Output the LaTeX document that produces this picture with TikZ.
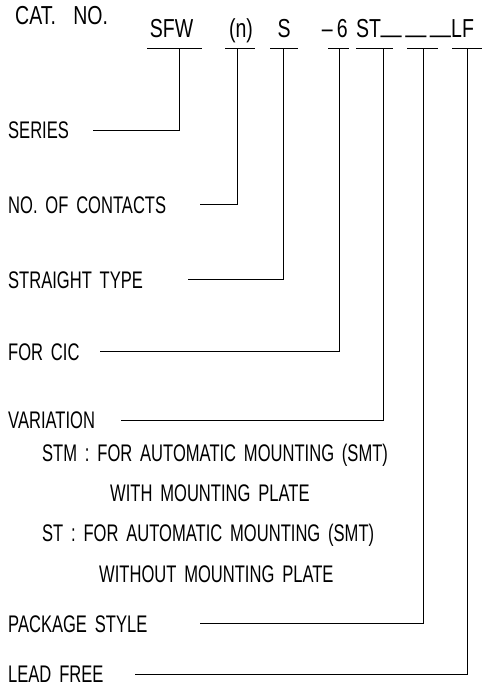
\documentclass[tikz,border=0pt]{standalone}
\usepackage{fontspec}
\usetikzlibrary{positioning}
\newfontfamily\cadfont[FakeStretch=0.69,WordSpace=1.7]{Liberation Sans}
\newfontfamily\hdrfont[FakeStretch=0.75,WordSpace=3.2]{Liberation Sans}
\tikzset{
    lbl/.style={anchor=base west, inner sep=0pt, font=\cadfont\fontsize{24}{28}\selectfont},
    code/.style={anchor=base, inner sep=0pt, font=\hdrfont\fontsize{26}{30}\selectfont},
    lead/.style={line width=0.9pt, draw=black},
    uline/.style={line width=0.9pt, draw=black}
}
\begin{document}
\begin{tikzpicture}[x=1pt, y=-1pt]
    \useasboundingbox (0,0) rectangle (491,687);
    % catalogue number
    \node[code, anchor=base west] (cat) at (15,25) {CAT. NO.};
    \node[code] (sfw) at (171.5,38) {SFW};
    \node[code] (nn) at (241,38) {(n)};
    \node[code] (st) at (284,38) {S};
    \node[code, anchor=base east] (cic) at (348,38) {–\,6};
    \node[code, anchor=base west] (var) at (356,38) {ST};
    \node[code, anchor=base west] (pkg) at (381,38) {\raisebox{0.2em}{\addfontfeature{FakeStretch=1.4}\_\,\_\,\_}};
    \node[code, anchor=base west] (lf) at (451,38) {LF};
    % underlines
    \draw[uline] (147,48) -- (202,48);
    \draw[uline] (225,48) -- (255,48);
    \draw[uline] (270,48) -- (298,48);
    \draw[uline] (328,48) -- (349,48);
    \draw[uline] (356,48) -- (393,48);
    \draw[uline] (407,48) -- (438,48);
    \draw[uline] (452,48) -- (482,48);
    \coordinate (t1) at (179,48);
    \coordinate (t2) at (237,48);
    \coordinate (t3) at (283,48);
    \coordinate (t4) at (339,48);
    \coordinate (t5) at (383,48);
    \coordinate (t6) at (423,48);
    \coordinate (t7) at (467,48);
    % labels
    \node[lbl] (series) at (8,138.5) {SERIES};
    \node[lbl] (contacts) at (8,213) {NO. OF CONTACTS};
    \node[lbl] (straight) at (8,288) {STRAIGHT TYPE};
    \node[lbl] (forcic) at (8,360) {FOR CIC};
    \node[lbl] (variation) at (8,428) {VARIATION};
    \node[lbl] (stm) at (42,461) {STM : FOR AUTOMATIC MOUNTING (SMT)};
    \node[lbl] (withp) at (110,501) {WITH MOUNTING PLATE};
    \node[lbl] (stn) at (42,541) {ST : FOR AUTOMATIC MOUNTING (SMT)};
    \node[lbl] (withoutp) at (99,582) {WITHOUT MOUNTING PLATE};
    \node[lbl] (package) at (8,632) {PACKAGE STYLE};
    \node[lbl] (lead) at (8,682.5) {LEAD FREE};
    % leader lines
    \coordinate (s1) at (93,130);
    \coordinate (s2) at (200,204);
    \coordinate (s3) at (188,279);
    \coordinate (s4) at (100,351);
    \coordinate (s5) at (121,420);
    \coordinate (s6) at (200,623);
    \coordinate (s7) at (135,674);
    \draw[lead] (s1) -| (t1);
    \draw[lead] (s2) -| (t2);
    \draw[lead] (s3) -| (t3);
    \draw[lead] (s4) -| (t4);
    \draw[lead] (s5) -| (t5);
    \draw[lead] (s6) -| (t6);
    \draw[lead] (s7) -| (t7);
\end{tikzpicture}
\end{document}
